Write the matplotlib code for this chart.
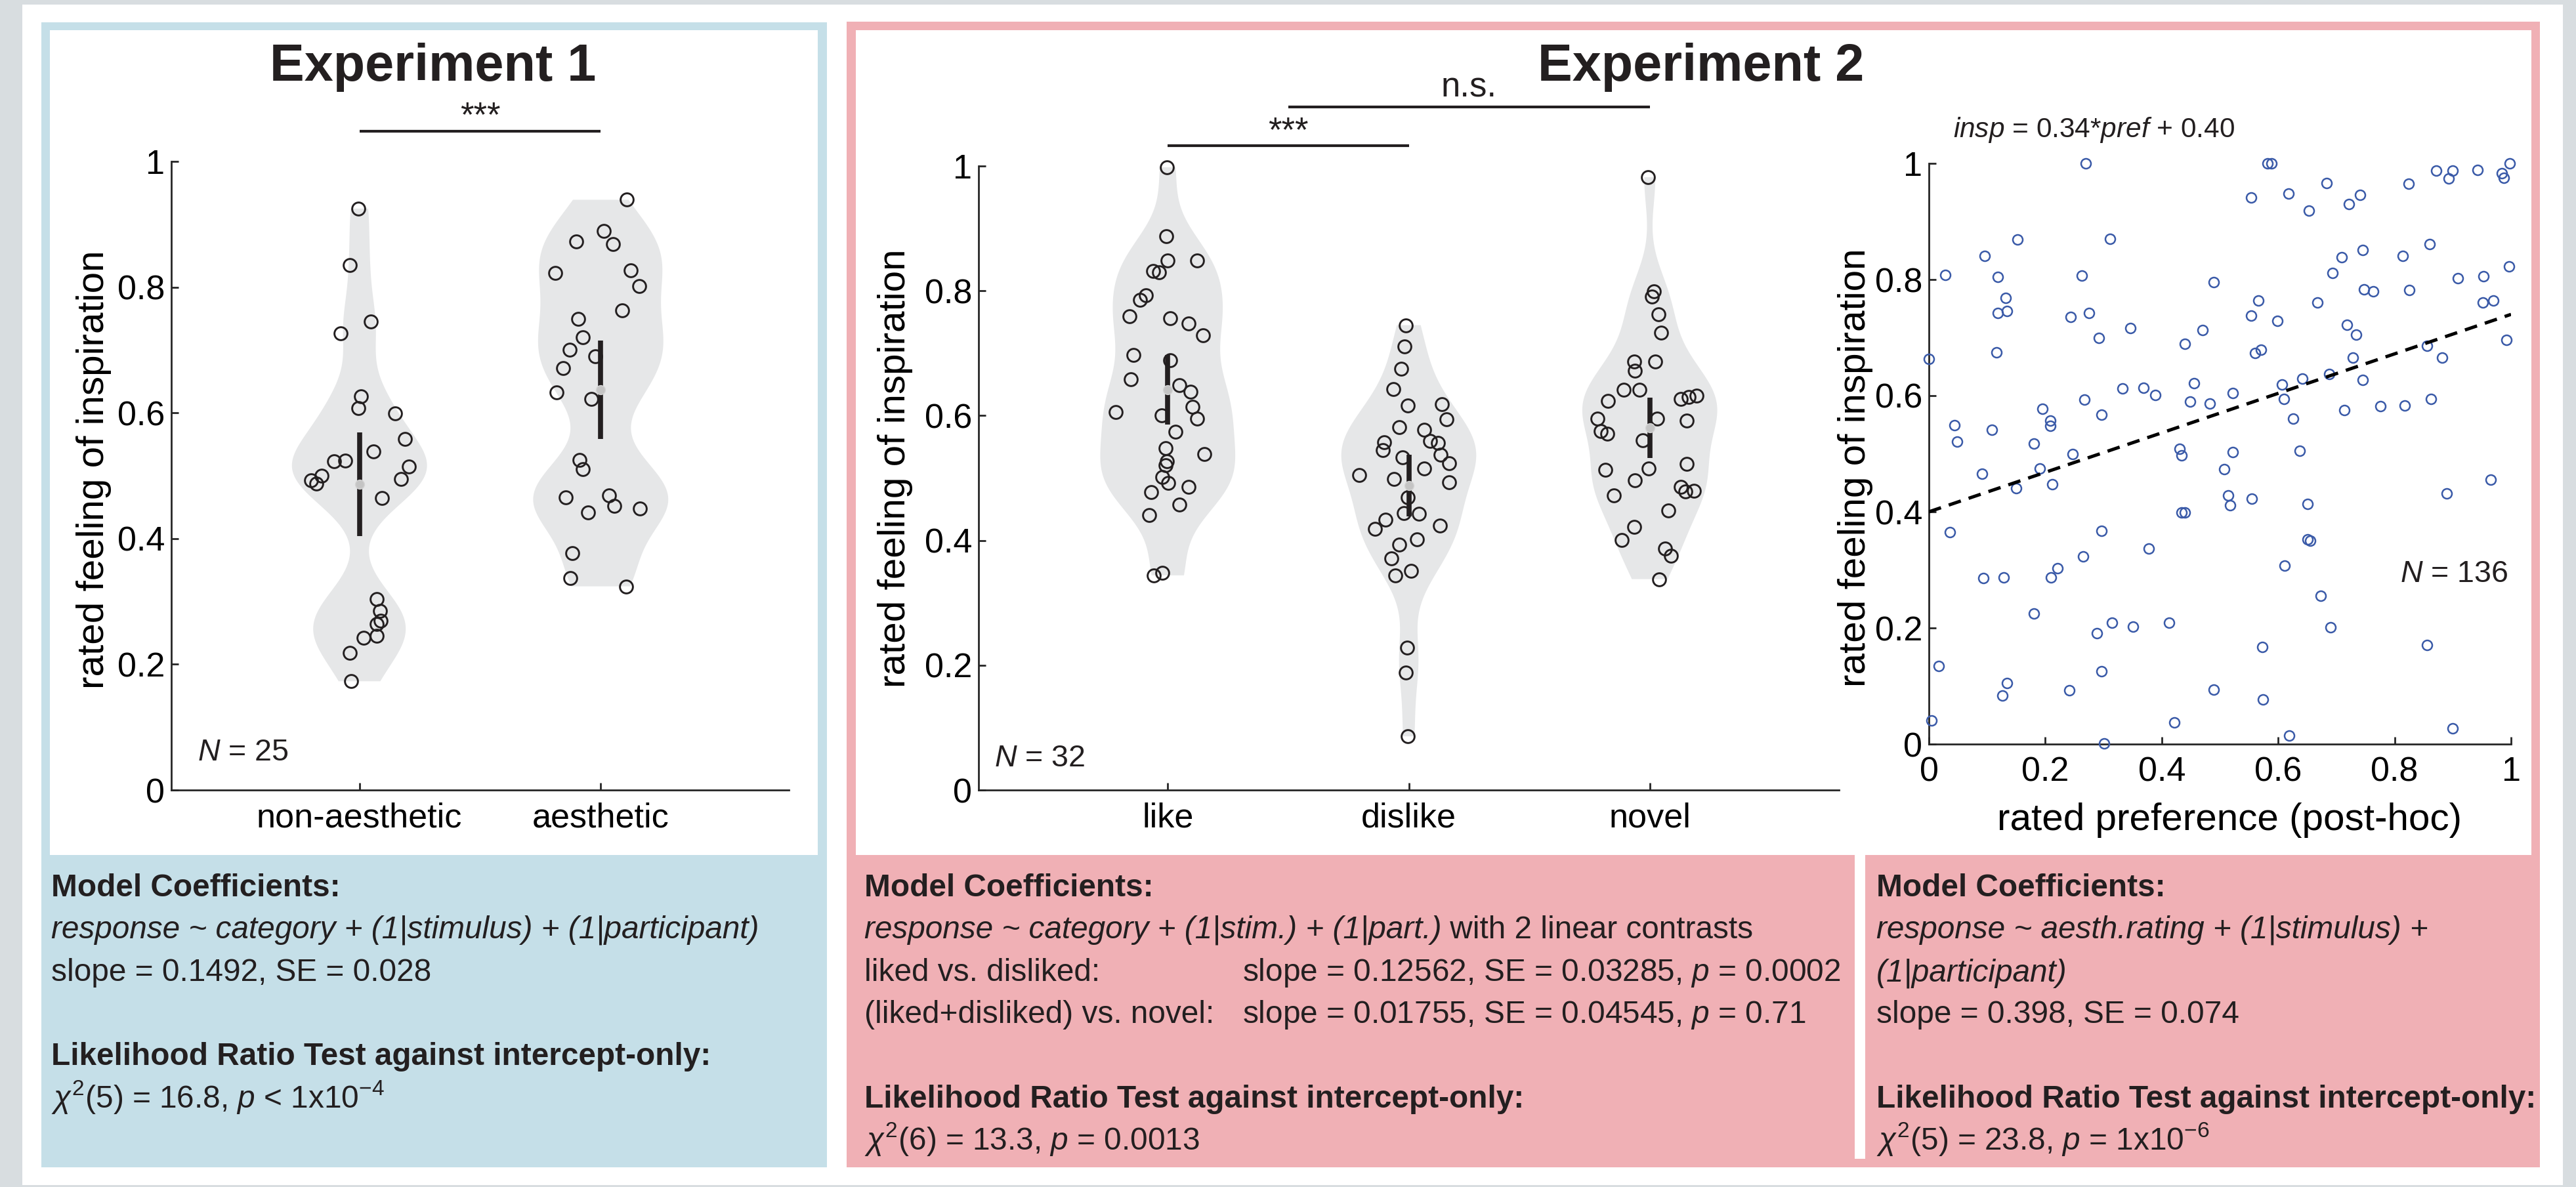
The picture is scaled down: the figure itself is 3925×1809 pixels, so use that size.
import math
import numpy as np
import matplotlib
matplotlib.use("Agg")
import matplotlib.pyplot as plt
from matplotlib.patches import Rectangle

# ---------------------------------------------------------------- data
Y_TICKS = [0, 0.2, 0.4, 0.6, 0.8, 1]
Y_TICK_LABELS = ['0', '0.2', '0.4', '0.6', '0.8', '1']

EXP1_CATEGORIES = ['non-aesthetic', 'aesthetic']
EXP1_NONAES = [0.925, 0.835, 0.745, 0.726, 0.626, 0.608, 0.599, 0.558, 0.539, 0.523,
               0.524, 0.515, 0.500, 0.493, 0.487, 0.495, 0.464, 0.304, 0.285, 0.269,
               0.264, 0.245, 0.242, 0.218, 0.173]
EXP1_NONAES_JITTER = [-0.005, -0.039, 0.046, -0.078, 0.007, -0.005, 0.149, 0.188, 0.059, -0.105,
                      -0.059, 0.204, -0.156, -0.201, -0.178, 0.172, 0.092, 0.071, 0.085, 0.087,
                      0.071, 0.071, 0.016, -0.041, -0.034]
EXP1_AES = [0.939, 0.889, 0.873, 0.868, 0.823, 0.827, 0.802, 0.763, 0.749, 0.720,
            0.700, 0.690, 0.671, 0.633, 0.622, 0.525, 0.510, 0.466, 0.469, 0.452,
            0.442, 0.448, 0.377, 0.337, 0.324]
EXP1_AES_JITTER = [0.108, 0.014, -0.101, 0.050, -0.188, 0.124, 0.160, 0.089, -0.092, -0.073,
                   -0.128, -0.023, -0.156, -0.183, -0.039, -0.089, -0.073, -0.146, 0.034, 0.055,
                   -0.053, 0.162, -0.117, -0.126, 0.105]
EXP1_N = 25

EXP2_CATEGORIES = ['like', 'dislike', 'novel']
EXP2_LIKE = [0.998, 0.888, 0.849, 0.849, 0.832, 0.830, 0.793, 0.786, 0.759, 0.756,
             0.748, 0.729, 0.697, 0.689, 0.658, 0.649, 0.638, 0.614, 0.606, 0.600,
             0.595, 0.574, 0.548, 0.538, 0.527, 0.520, 0.502, 0.492, 0.486, 0.477,
             0.457, 0.441, 0.344, 0.348]
EXP2_LIKE_JITTER = [-0.003, -0.005, 0.000, 0.122, -0.062, -0.036, -0.091, -0.115, -0.159, 0.010,
                    0.086, 0.146, -0.143, 0.010, -0.154, 0.047, 0.094, 0.104, -0.216, -0.026,
                    0.122, 0.031, -0.010, 0.151, -0.003, -0.008, -0.023, 0.003, 0.086, -0.070,
                    0.049, -0.078, -0.057, -0.023]
EXP2_DISLIKE = [0.745, 0.711, 0.675, 0.642, 0.616, 0.618, 0.594, 0.581, 0.577, 0.559,
                0.556, 0.557, 0.545, 0.537, 0.533, 0.524, 0.515, 0.505, 0.498, 0.493,
                0.469, 0.443, 0.444, 0.433, 0.424, 0.419, 0.393, 0.402, 0.371, 0.351,
                0.344, 0.228, 0.188, 0.086]
EXP2_DISLIKE_JITTER = [-0.013, -0.018, -0.031, -0.065, -0.003, 0.138, 0.156, -0.039, 0.063, 0.089,
                       0.120, -0.102, -0.107, 0.133, -0.026, 0.167, 0.065, -0.206, -0.060, 0.167,
                       -0.003, 0.042, -0.021, -0.096, 0.130, -0.141, -0.039, 0.034, -0.073, 0.010,
                       -0.055, -0.008, -0.013, -0.005]
EXP2_NOVEL = [0.982, 0.799, 0.791, 0.762, 0.733, 0.687, 0.687, 0.672, 0.641, 0.641,
              0.624, 0.627, 0.630, 0.632, 0.595, 0.595, 0.592, 0.575, 0.571, 0.560,
              0.515, 0.513, 0.523, 0.496, 0.486, 0.478, 0.480, 0.472, 0.448, 0.422,
              0.401, 0.387, 0.375, 0.338]
EXP2_NOVEL_JITTER = [-0.008, 0.016, 0.010, 0.036, 0.047, -0.065, 0.023, -0.063, -0.109, -0.042,
                     -0.174, 0.130, 0.161, 0.195, -0.216, 0.031, 0.154, -0.203, -0.177, -0.029,
                     -0.005, -0.185, 0.154, -0.063, 0.130, 0.148, 0.182, -0.148, 0.078, -0.065,
                     -0.115, 0.063, 0.089, 0.039]
EXP2_N = 32

SCATTER_PREF = [0.269, 0.152, 0.311, 0.096, 0.028, 0.118, 0.263, 0.489, 0.132, 0.118,
                0.134, 0.244, 0.275, 0.346, 0.292, 0.470, 0.440, 0.116, 0.000, 0.333,
                0.369, 0.389, 0.455, 0.267, 0.449, 0.482, 0.195, 0.296, 0.044, 0.108,
                0.209, 0.209, 0.049, 0.180, 0.247, 0.431, 0.434, 0.091, 0.190, 0.150,
                0.212, 0.434, 0.440, 0.036, 0.296, 0.378, 0.265, 0.221, 0.210, 0.094,
                0.128, 0.180, 0.315, 0.351, 0.289, 0.413, 0.017, 0.296, 0.134, 0.126,
                0.241, 0.489, 0.004, 0.422, 0.301, 0.582, 0.589, 0.683, 0.554, 0.618,
                0.653, 0.722, 0.741, 0.824, 0.871, 0.893, 0.900, 0.943, 0.984, 0.988,
                0.998, 0.860, 0.745, 0.709, 0.814, 0.693, 0.997, 0.909, 0.953, 0.747,
                0.763, 0.825, 0.566, 0.951, 0.970, 0.554, 0.667, 0.599, 0.718, 0.734,
                0.992, 0.560, 0.570, 0.856, 0.882, 0.728, 0.688, 0.745, 0.642, 0.607,
                0.522, 0.610, 0.714, 0.776, 0.817, 0.862, 0.626, 0.522, 0.637, 0.507,
                0.514, 0.518, 0.555, 0.650, 0.650, 0.655, 0.611, 0.673, 0.690, 0.573,
                0.574, 0.619, 0.890, 0.965, 0.856, 0.900]
SCATTER_INSP = [1.000, 0.869, 0.870, 0.841, 0.808, 0.804, 0.807, 0.795, 0.768, 0.742,
                0.746, 0.736, 0.742, 0.716, 0.700, 0.713, 0.689, 0.675, 0.663, 0.612,
                0.613, 0.601, 0.622, 0.593, 0.590, 0.586, 0.577, 0.567, 0.549, 0.541,
                0.557, 0.548, 0.521, 0.517, 0.499, 0.509, 0.497, 0.466, 0.475, 0.441,
                0.448, 0.399, 0.399, 0.365, 0.367, 0.337, 0.323, 0.303, 0.287, 0.286,
                0.287, 0.225, 0.209, 0.202, 0.191, 0.209, 0.135, 0.125, 0.105, 0.084,
                0.093, 0.094, 0.041, 0.037, 0.001, 1.000, 1.000, 0.966, 0.941, 0.948,
                0.919, 0.930, 0.946, 0.965, 0.988, 0.974, 0.988, 0.989, 0.983, 0.975,
                1.000, 0.861, 0.851, 0.838, 0.841, 0.811, 0.823, 0.802, 0.806, 0.783,
                0.780, 0.782, 0.764, 0.761, 0.764, 0.738, 0.760, 0.729, 0.722, 0.705,
                0.696, 0.674, 0.679, 0.686, 0.665, 0.665, 0.637, 0.627, 0.629, 0.619,
                0.605, 0.594, 0.575, 0.582, 0.583, 0.594, 0.560, 0.503, 0.505, 0.474,
                0.428, 0.411, 0.423, 0.414, 0.352, 0.350, 0.307, 0.255, 0.201, 0.167,
                0.077, 0.015, 0.432, 0.455, 0.171, 0.027]
FIT_SLOPE = 0.34
FIT_INTERCEPT = 0.40
SCATTER_N = 136

# ---------------------------------------------------------------- style
plt.rcParams['font.family'] = ['Liberation Sans', 'DejaVu Sans']
plt.rcParams['mathtext.fontset'] = 'custom'
plt.rcParams['mathtext.rm'] = 'Liberation Sans'
plt.rcParams['mathtext.it'] = 'Liberation Sans:italic'
plt.rcParams['mathtext.bf'] = 'Liberation Sans:bold'
plt.rcParams['mathtext.sf'] = 'Liberation Sans'
plt.rcParams['lines.scale_dashes'] = False

TXT = '#231f20'
AXC = '#262626'
BG_GRAY = '#d8dde0'
BLUE_PANEL = '#c5dfe8'
PINK_PANEL = '#f0b0b5'
VIOLIN_FILL = '#e6e7e8'
SCATTER_BLUE = '#3a5aa8'

W, H = 3925, 1809
fig = plt.figure(figsize=(W / 100, H / 100), dpi=100)
fig.patch.set_facecolor(BG_GRAY)


def rect_px(x0, y0, x1, y1, color):
    fig.patches.append(Rectangle((x0 / W, 1 - y1 / H), (x1 - x0) / W, (y1 - y0) / H,
                                 transform=fig.transFigure, facecolor=color,
                                 edgecolor='none', zorder=-10))


def axes_px(l, t, r, b):
    ax = fig.add_axes([l / W, 1 - b / H, (r - l) / W, (b - t) / H])
    ax.set_facecolor('none')
    ax.set_zorder(2)
    return ax


def text_px(x, y, s, **kw):
    kw.setdefault('color', TXT)
    return fig.text(x / W, 1 - y / H, s, **kw)


def style_ax(ax):
    for s in ['top', 'right']:
        ax.spines[s].set_visible(False)
    for s in ['left', 'bottom']:
        ax.spines[s].set_linewidth(2.0)
        ax.spines[s].set_color(AXC)
    ax.tick_params(direction='in', length=8, width=2.0, color=AXC,
                   labelcolor='black', labelsize=37.5)
    ax.tick_params(axis='x', pad=13)
    ax.tick_params(axis='y', pad=7)
    ax.set_ylim(0, 1)
    ax.set_yticks(Y_TICKS)
    ax.set_yticklabels(Y_TICK_LABELS)


def t975(df):
    ts = np.linspace(0, 6, 30001)
    c = math.exp(math.lgamma((df + 1) / 2) - math.lgamma(df / 2)) / math.sqrt(df * math.pi)
    pdf = c * (1 + ts ** 2 / df) ** (-(df + 1) / 2)
    cdf = 0.5 + np.concatenate([[0.0], np.cumsum((pdf[1:] + pdf[:-1]) / 2 * np.diff(ts))])
    return float(np.interp(0.975, cdf, ts))


BW = 0.05


def bw_func(kde):
    return BW / np.std(kde.dataset, ddof=1)


def violin_panel(ax, groups, jitters):
    pos = np.arange(1, len(groups) + 1)
    parts = ax.violinplot([np.asarray(g) for g in groups], positions=pos, widths=0.56,
                          showextrema=False, bw_method=bw_func, points=200)
    for b in parts['bodies']:
        b.set_facecolor(VIOLIN_FILL)
        b.set_edgecolor('none')
        b.set_alpha(1)
        b.set_zorder(1)
    for p, g, j in zip(pos, groups, jitters):
        g = np.asarray(g)
        ax.plot(p + np.asarray(j), g, 'o', ms=14.2, mfc='none', mec=TXT, mew=2.1,
                zorder=3, clip_on=False)
        m = g.mean()
        ci = t975(len(g) - 1) * g.std(ddof=1) / np.sqrt(len(g))
        ax.plot([p, p], [m - ci, m + ci], color=TXT, lw=5.5, solid_capstyle='butt', zorder=4)
        ax.plot([p], [m], 'o', ms=10, mfc='#c4c4c4', mec='#d4d4d4', mew=1.0, zorder=5)


def sig_bar(ax, x0, x1, y, label, ty):
    ax.plot([x0, x1], [y, y], color=TXT, lw=3.0, clip_on=False, solid_capstyle='butt')
    ax.text((x0 + x1) / 2, ty, label, ha='center', va='center', fontsize=38, color=TXT,
            clip_on=False)


# ---------------------------------------------------------------- panels background
rect_px(34, 7, 3905, 1806, 'white')
rect_px(63, 34, 1260, 1303, BLUE_PANEL)
rect_px(76, 46, 1246, 1303, 'white')
rect_px(63, 1303, 1260, 1779, BLUE_PANEL)
rect_px(1290, 33, 3870, 1303, PINK_PANEL)
rect_px(1304, 46, 3857, 1303, 'white')
rect_px(1290, 1303, 3870, 1779, PINK_PANEL)
rect_px(2826, 1303, 2842, 1766, 'white')

# ---------------------------------------------------------------- Experiment 1
ax1 = axes_px(261, 246, 1202, 1204)
style_ax(ax1)
violin_panel(ax1, [EXP1_NONAES, EXP1_AES], [EXP1_NONAES_JITTER, EXP1_AES_JITTER])
ax1.set_xlim(0.22, 2.78)
ax1.set_xticks([1, 2])
ax1.set_xticklabels(EXP1_CATEGORIES)
ax1.set_ylabel('rated feeling of inspiration', fontsize=42, va='center')
ax1.yaxis.set_label_coords(-0.1254, 0.51)
sig_bar(ax1, 1, 2, 1.048, '***', 1.071)
ax1.text(0.22 + 40 / 368, 0.047, '$N$ = %d' % EXP1_N, fontsize=33.6, color=TXT,
         ha='left', va='baseline')
text_px(660, 123, 'Experiment 1', fontsize=57, weight='bold', ha='center', va='baseline')

# ---------------------------------------------------------------- Experiment 2 violins
ax2 = axes_px(1491, 253, 2802, 1204)
style_ax(ax2)
violin_panel(ax2, [EXP2_LIKE, EXP2_DISLIKE, EXP2_NOVEL],
             [EXP2_LIKE_JITTER, EXP2_DISLIKE_JITTER, EXP2_NOVEL_JITTER])
ax2.set_xlim(0.215, 3.785)
ax2.set_xticks([1, 2, 3])
ax2.set_xticklabels(EXP2_CATEGORIES)
ax2.set_ylabel('rated feeling of inspiration', fontsize=42, va='center')
ax2.yaxis.set_label_coords(-0.0969, 0.516)
sig_bar(ax2, 1, 2, 1.033, '***', 1.055)
sig_bar(ax2, 1.5, 3, 1.095, 'n.s.', 1.126)
ax2.text(0.215 + 24 / 367, 0.038, '$N$ = %d' % EXP2_N, fontsize=33.6, color=TXT,
         ha='left', va='baseline')
text_px(2592, 123, 'Experiment 2', fontsize=57, weight='bold', ha='center', va='baseline')

# ---------------------------------------------------------------- scatter
ax3 = axes_px(2939, 249, 3826, 1134)
style_ax(ax3)
ax3.set_xlim(0, 1)
ax3.set_xticks(Y_TICKS)
ax3.set_xticklabels(Y_TICK_LABELS)
ax3.plot(SCATTER_PREF, SCATTER_INSP, 'o', ms=10.8, mfc='none', mec=SCATTER_BLUE, mew=1.8,
         clip_on=False, zorder=3)
xs = np.array([0.0, 1.0])
ax3.plot(xs, FIT_SLOPE * xs + FIT_INTERCEPT, color='black', lw=3.6, dashes=(14, 9), zorder=4)
ax3.set_ylabel('rated feeling of inspiration', fontsize=42, va='center')
ax3.yaxis.set_label_coords(-0.1263, 0.476)
ax3.set_xlabel('rated preference (post-hoc)', fontsize=42, va='center')
ax3.xaxis.set_label_coords(0.516, -0.131)
ax3.text(0.995, 0.279, '$N$ = %d' % SCATTER_N, fontsize=33.6, color=TXT,
         ha='right', va='baseline', transform=ax3.transAxes)
ax3.text(0.042, 1.045, '$insp$ = %.2f*$pref$ + %.2f' % (FIT_SLOPE, FIT_INTERCEPT),
         fontsize=30.5, color=TXT, ha='left', va='baseline', transform=ax3.transAxes)

# ---------------------------------------------------------------- text boxes
FS = 34.4
renderer = fig.canvas.get_renderer()

# Experiment 1 box
x0 = 78
text_px(x0, 1366, 'Model Coefficients:', fontsize=FS, weight='bold', va='baseline')
text_px(x0, 1430, 'response ~ category + (1|stimulus) + (1|participant)', fontsize=FS,
        style='italic', va='baseline')
text_px(x0, 1495, 'slope = 0.1492, SE = 0.028', fontsize=FS, va='baseline')
text_px(x0, 1623, 'Likelihood Ratio Test against intercept-only:', fontsize=FS,
        weight='bold', va='baseline')
text_px(x0, 1688, r'$\chi^{2}$(5) = 16.8, $p$ < 1x$10^{-4}$', fontsize=FS, va='baseline')

# Experiment 2 left box
x0 = 1317
x1 = 1893
text_px(x0, 1366, 'Model Coefficients:', fontsize=FS, weight='bold', va='baseline')
t = text_px(x0, 1430, 'response ~ category + (1|stim.) + (1|part.)', fontsize=FS,
            style='italic', va='baseline')
bb = t.get_window_extent(renderer)
fig.text(bb.x1 / W, 1 - 1430 / H, ' with 2 linear contrasts', fontsize=FS, color=TXT,
         va='baseline')
text_px(x0, 1495, 'liked vs. disliked:', fontsize=FS, va='baseline')
text_px(x1, 1495, 'slope = 0.12562, SE = 0.03285, $p$ = 0.0002', fontsize=FS, va='baseline')
text_px(x0, 1559, '(liked+disliked) vs. novel:', fontsize=FS, va='baseline')
text_px(x1, 1559, 'slope = 0.01755, SE = 0.04545, $p$ = 0.71', fontsize=FS, va='baseline')
text_px(x0, 1688, 'Likelihood Ratio Test against intercept-only:', fontsize=FS,
        weight='bold', va='baseline')
text_px(x0, 1752, r'$\chi^{2}$(6) = 13.3, $p$ = 0.0013', fontsize=FS, va='baseline')

# Experiment 2 right box
x0 = 2859
text_px(x0, 1366, 'Model Coefficients:', fontsize=FS, weight='bold', va='baseline')
text_px(x0, 1430, 'response ~ aesth.rating + (1|stimulus) +', fontsize=FS, style='italic',
        va='baseline')
text_px(x0, 1495, '(1|participant)', fontsize=FS, style='italic', va='baseline')
text_px(x0, 1559, 'slope = 0.398, SE = 0.074', fontsize=FS, va='baseline')
text_px(x0, 1688, 'Likelihood Ratio Test against intercept-only:', fontsize=FS,
        weight='bold', va='baseline')
text_px(x0, 1752, r'$\chi^{2}$(5) = 23.8, $p$ = 1x$10^{-6}$', fontsize=FS, va='baseline')

fig.savefig('out.png', dpi=100, facecolor=fig.get_facecolor())
